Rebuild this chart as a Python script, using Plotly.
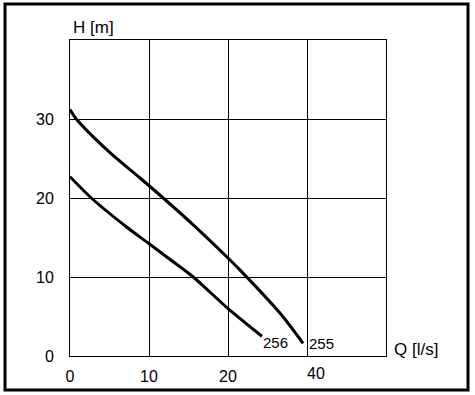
import plotly.graph_objects as go

# Data
q_255 = [0, 0.8, 5.1, 8.9, 11.8, 15.6, 19.9, 21.5, 26.6, 29.5]
h_255 = [31.2, 30, 25.7, 22.5, 20, 16.6, 12.5, 10.9, 5.4, 1.6]
q_256 = [0, 2.7, 7.2, 9.9, 13.1, 15.6, 19.9, 24.3]
h_256 = [22.7, 20, 16.3, 14.3, 11.9, 10, 6.1, 2.5]
x_ticks = [0, 10, 20]
x_tick_labels = ["0", "10", "20"]
y_ticks = [0, 10, 20, 30]
y_tick_labels = ["0", "10", "20", "30"]
curve_names = ["255", "256"]

FONT = "Liberation Sans, Arial, sans-serif"

fig = go.Figure()
for q, h in ((q_255, h_255), (q_256, h_256)):
    fig.add_trace(go.Scatter(x=q, y=h, mode="lines",
                             line=dict(color="black", width=3, shape="spline", smoothing=0.8),
                             showlegend=False, hoverinfo="skip"))

fig.update_xaxes(range=[0, 40], tickvals=[0, 10, 20, 30], ticktext=x_tick_labels + [""],
                 showgrid=True, gridcolor="black", gridwidth=1, zeroline=False,
                 showline=True, linecolor="black", linewidth=1, mirror=True,
                 ticks="outside", ticklen=6, tickcolor="white", automargin=False,
                 tickfont=dict(family=FONT, size=16, color="black"))
fig.update_yaxes(range=[0, 40], tickvals=y_ticks, ticktext=y_tick_labels,
                 showgrid=True, gridcolor="black", gridwidth=1, zeroline=False,
                 showline=True, linecolor="black", linewidth=1, mirror=True,
                 ticks="outside", ticklen=12, tickcolor="white", automargin=False,
                 tickfont=dict(family=FONT, size=16, color="black"))

ann = [
    dict(x=31.2, y=0, xref="x", yref="y", text="40", showarrow=False, yshift=-17, font=dict(family=FONT, size=16, color="black")),
    dict(x=0, y=40, xref="x", yref="y", text="H [m]", showarrow=False, xanchor="left", xshift=1, yshift=13, font=dict(family=FONT, size=17, color="black")),
    dict(x=40, y=0, xref="x", yref="y", text="Q [l/s]", showarrow=False, xanchor="left", xshift=6, yshift=7, font=dict(family=FONT, size=17, color="black")),
    dict(x=q_256[-1], y=h_256[-1], xref="x", yref="y", text=curve_names[1], showarrow=False, xanchor="left", xshift=-1, yshift=-6, font=dict(family=FONT, size=15, color="black")),
    dict(x=q_255[-1], y=h_255[-1], xref="x", yref="y", text=curve_names[0], showarrow=False, xanchor="left", xshift=4, yshift=0, font=dict(family=FONT, size=15, color="black")),
]

fig.update_layout(
    width=475, height=395,
    margin=dict(l=70, r=89, t=40, b=39),
    plot_bgcolor="white", paper_bgcolor="white",
    annotations=ann,
    shapes=[dict(type="rect", xref="paper", yref="paper",
                 x0=(5 - 70) / 316, x1=(468 - 70) / 316,
                 y0=(356 - 390) / 316, y1=(356 - 4) / 316,
                 line=dict(color="black", width=3))],
)

fig.write_html("out.html", config={"displayModeBar": False},
               post_script="document.body.style.margin='0';")
